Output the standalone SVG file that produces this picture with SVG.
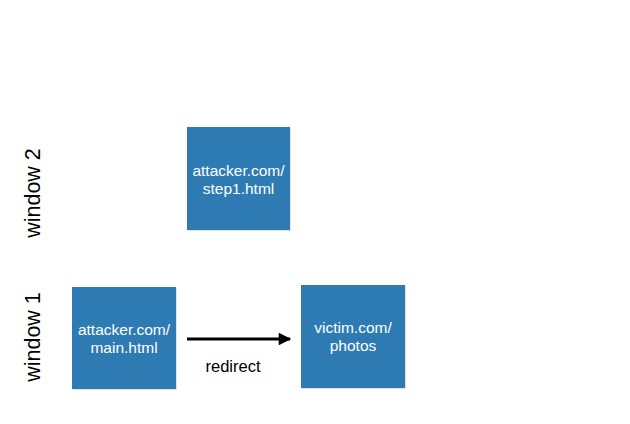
<svg xmlns="http://www.w3.org/2000/svg" width="630" height="424" viewBox="0 0 630 424">
<defs>
<style>
.box{fill:#2e7bb4;}
.shadow{fill:#000;opacity:0.12;}
.bt{font-family:"Liberation Sans",Arial,sans-serif;font-size:15.5px;fill:#ffffff;text-anchor:middle;}
.lbl{font-family:"Liberation Sans",Arial,sans-serif;font-size:16.5px;fill:#000;text-anchor:middle;}
.win{font-family:"Liberation Sans",Arial,sans-serif;font-size:21.5px;fill:#000;text-anchor:middle;}
</style>
<marker id="ah" viewBox="0 0 10 10" refX="9" refY="5" markerWidth="5.5" markerHeight="4.2" orient="auto" markerUnits="strokeWidth">
<path d="M0,0 L10,5 L0,10 z" fill="#000"/>
</marker>
</defs>
<rect width="630" height="424" fill="#fff"/>
<g id="label-window2"><text class="win" transform="translate(40,193) rotate(-90)">window 2</text></g>
<g id="label-window1"><text class="win" transform="translate(40,337) rotate(-90)">window 1</text></g>
<g id="step1">
<rect class="shadow" x="188" y="128" width="103" height="103"/>
<rect class="box" x="187" y="127" width="103" height="103"/>
<text class="bt" x="238.5" y="176">attacker.com/</text>
<text class="bt" x="238.5" y="194">step1.html</text>
</g>
<g id="main">
<rect class="shadow" x="73" y="288" width="104" height="102"/>
<rect class="box" x="72" y="287" width="104" height="102"/>
<text class="bt" x="124" y="335">attacker.com/</text>
<text class="bt" x="124" y="353">main.html</text>
</g>
<g id="victim">
<rect class="shadow" x="302" y="286" width="104" height="103"/>
<rect class="box" x="301" y="285" width="104" height="103"/>
<text class="bt" x="353" y="333">victim.com/</text>
<text class="bt" x="353" y="351">photos</text>
</g>
<g id="connectors">
<line x1="187" y1="339" x2="290" y2="339" stroke="#000" stroke-width="3" marker-end="url(#ah)"/>
<text class="lbl" x="233" y="372">redirect</text>
</g>
</svg>
